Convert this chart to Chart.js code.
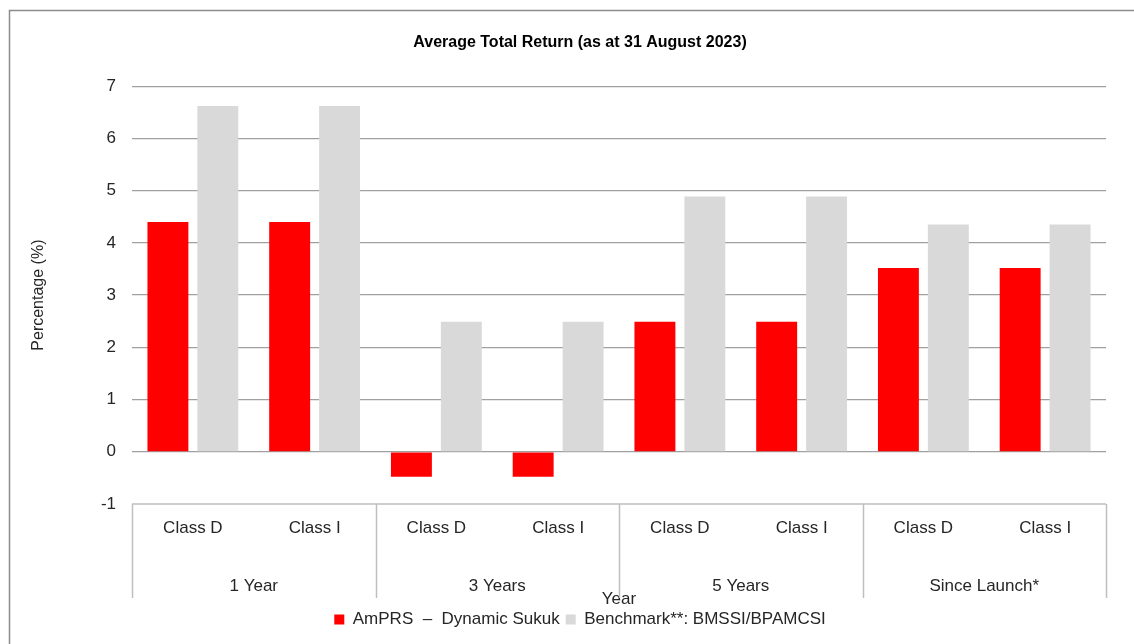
<!DOCTYPE html>
<html>
<head>
<meta charset="utf-8">
<script src="https://cdn.jsdelivr.net/npm/chart.js"></script>
<style>
  body { margin: 0; background: #fff; }
  #wrap { width: 1134px; height: 644px; }
</style>
</head>
<body>
<div id="wrap"><canvas id="returns"></canvas></div>

<script>
    const classLabels = ['Class D', 'Class I', 'Class D', 'Class I', 'Class D', 'Class I', 'Class D', 'Class I'];
    const periodLabels = ['1 Year', '3 Years', '5 Years', 'Since Launch*'];
    const fundReturns = [4.40, 4.40, -0.48, -0.48, 2.49, 2.49, 3.52, 3.52];
    const benchReturns = [6.62, 6.62, 2.49, 2.49, 4.89, 4.89, 4.35, 4.35];
    const yTicks = [-1, 0, 1, 2, 3, 4, 5, 6, 7];

    const FONT = "'Liberation Sans', Arial, sans-serif";
    Chart.defaults.font.family = FONT;
    Chart.defaults.color = '#262626';

    // frame of the chart box (left and top edges only show)
    const frame = {
        id: 'frame',
        beforeDraw(chart) {
            const ctx = chart.ctx;
            ctx.save();
            ctx.strokeStyle = '#8c8c8c';
            ctx.lineWidth = 1.5;
            ctx.beginPath();
            ctx.moveTo(9.5, chart.height);
            ctx.lineTo(9.5, 10.5);
            ctx.lineTo(chart.width, 10.5);
            ctx.stroke();
            ctx.restore();
        }
    };

    // group separators under the plot, like the excel multi level axis
    const groupLines = {
        id: 'groupLines',
        afterDraw(chart) {
            const x = chart.scales.x;
            const area = chart.chartArea;
            const step = x.getPixelForValue(1) - x.getPixelForValue(0);
            const ctx = chart.ctx;
            ctx.save();
            ctx.strokeStyle = '#bfbfbf';
            ctx.lineWidth = 1.5;
            ctx.beginPath();
            ctx.moveTo(area.left, area.bottom);
            ctx.lineTo(area.right, area.bottom);
            for (let k = 0; k <= periodLabels.length; k++) {
                const px = Math.round(x.getPixelForValue(k * 2) - step / 2) + 0.5;
                ctx.moveTo(px, area.bottom);
                ctx.lineTo(px, area.bottom + 94);
            }
            ctx.stroke();
            ctx.restore();
        }
    };

    new Chart(document.getElementById('returns'), {
        type: 'bar',
        data: {
            labels: classLabels,
            datasets: [
                {
                    label: 'AmPRS  \u2013  Dynamic Sukuk',
                    data: fundReturns,
                    backgroundColor: '#ff0000',
                    categoryPercentage: 0.82,
                    barPercentage: 0.82
                },
                {
                    label: 'Benchmark**: BMSSI/BPAMCSI',
                    data: benchReturns,
                    backgroundColor: '#d9d9d9',
                    categoryPercentage: 0.82,
                    barPercentage: 0.82
                }
            ]
        },
        options: {
            responsive: true,
            maintainAspectRatio: false,
            animation: false,
            layout: { padding: { left: 54, right: 28, top: 0, bottom: 6 } },
            plugins: {
                tooltip: { enabled: false },
                title: {
                    display: true,
                    text: 'Average Total Return (as at 31 August 2023)',
                    color: '#000',
                    font: { size: 16, weight: 'bold' },
                    padding: { top: 33, bottom: 34 }
                },
                legend: {
                    position: 'bottom',
                    labels: {
                        boxWidth: 10,
                        boxHeight: 10,
                        padding: 6,
                        color: '#262626',
                        font: { size: 17 }
                    }
                }
            },
            scales: {
                y: {
                    min: -1,
                    max: 7,
                    afterFit(s) { s.width = 78; },
                    afterBuildTicks(s) { s.ticks = yTicks.map(v => ({ value: v })); },
                    border: { display: false },
                    grid: {
                        drawTicks: false,
                        lineWidth: 1.3,
                        color: c => c.tick && c.tick.value === -1 ? 'rgba(0,0,0,0)' : '#a0a0a0'
                    },
                    ticks: { padding: 16, color: '#262626', font: { size: 17 } },
                    title: {
                        display: true,
                        text: 'Percentage (%)',
                        color: '#262626',
                        font: { size: 16 },
                        padding: { top: -25 }
                    }
                },
                x: {
                    afterFit(s) { s.height = 50; },
                    border: { display: false },
                    grid: { display: false },
                    ticks: { padding: 6, color: '#262626', font: { size: 17 }, maxRotation: 0 }
                },
                x2: {
                    type: 'category',
                    position: 'bottom',
                    labels: periodLabels,
                    offset: true,
                    afterFit(s) { s.height = 51; },
                    border: { display: false },
                    grid: { display: false },
                    ticks: { padding: 14, color: '#262626', font: { size: 17 } },
                    title: {
                        display: true,
                        text: 'Year',
                        color: '#262626',
                        font: { size: 17, lineHeight: 1 },
                        padding: { bottom: -3 }
                    }
                }
            }
        },
        plugins: [frame, groupLines]
    });
</script>
</body>
</html>
